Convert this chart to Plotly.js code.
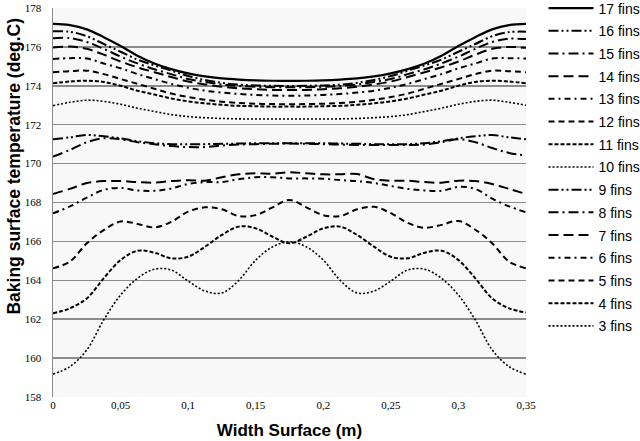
<!DOCTYPE html>
<html>
<head>
<meta charset="utf-8">
<script src="https://cdn.plot.ly/plotly-3.0.1.min.js"></script>
<style>html,body{margin:0;padding:0;background:#fff;}#chart{width:640px;height:441px;}</style>
</head>
<body>
<div id="chart"></div>
<script>
// Width positions (m)
const widthX = [0, 0.0125, 0.025, 0.0375, 0.05, 0.0625, 0.075, 0.0875, 0.1, 0.1125, 0.125, 0.1375, 0.15, 0.1625, 0.175,
  0.1875, 0.2, 0.2125, 0.225, 0.2375, 0.25, 0.2625, 0.275, 0.2875, 0.3, 0.3125, 0.325, 0.3375, 0.35];

// Baking surface temperature (deg.C) per fin count
const fins17 = [177.18, 177.12, 176.9, 176.5, 176.05, 175.55, 175.15, 174.86, 174.64, 174.48, 174.38, 174.32, 174.28, 174.26, 174.25,
  174.26, 174.28, 174.32, 174.38, 174.48, 174.64, 174.86, 175.15, 175.55, 176.05, 176.5, 176.9, 177.12, 177.18];
const fins16 = [176.8, 176.78, 176.55, 176.15, 175.75, 175.35, 175.05, 174.78, 174.5, 174.3, 174.15, 174.06, 174.02, 174.0, 173.99,
  174.0, 174.02, 174.06, 174.15, 174.3, 174.5, 174.78, 175.05, 175.35, 175.75, 176.15, 176.55, 176.76, 176.78];
const fins15 = [176.45, 176.45, 176.25, 175.9, 175.5, 175.15, 174.85, 174.6, 174.35, 174.2, 174.07, 173.99, 173.95, 173.93, 173.92,
  173.93, 173.95, 173.99, 174.07, 174.2, 174.35, 174.6, 174.85, 175.15, 175.5, 175.9, 176.25, 176.42, 176.4];
const fins14 = [175.97, 176.02, 175.9, 175.6, 175.25, 174.95, 174.7, 174.45, 174.22, 174.07, 173.95, 173.87, 173.82, 173.79, 173.78,
  173.79, 173.82, 173.87, 173.95, 174.07, 174.22, 174.45, 174.7, 174.95, 175.25, 175.6, 175.9, 176.0, 175.95];
const fins13 = [175.38, 175.42, 175.4, 175.15, 174.9, 174.6, 174.35, 174.1, 173.9, 173.75, 173.65, 173.58, 173.53, 173.5, 173.49,
  173.5, 173.53, 173.58, 173.65, 173.75, 173.9, 174.1, 174.35, 174.6, 174.9, 175.15, 175.4, 175.42, 175.4];
const fins12 = [174.7, 174.75, 174.78, 174.6, 174.35, 174.1, 173.85, 173.6, 173.42, 173.28, 173.18, 173.12, 173.08, 173.06, 173.05,
  173.06, 173.08, 173.12, 173.18, 173.28, 173.42, 173.6, 173.85, 174.1, 174.35, 174.6, 174.78, 174.75, 174.7];
const fins11 = [174.13, 174.22, 174.26, 174.2, 174.0, 173.75, 173.55, 173.35, 173.2, 173.1, 173.02, 172.97, 172.95, 172.93, 172.93,
  172.93, 172.95, 172.97, 173.02, 173.1, 173.2, 173.35, 173.55, 173.75, 174.0, 174.2, 174.26, 174.22, 174.13];
const fins10 = [172.98, 173.15, 173.26, 173.2, 173.05, 172.85, 172.68, 172.52, 172.42, 172.36, 172.32, 172.3, 172.29, 172.29, 172.29,
  172.29, 172.29, 172.3, 172.32, 172.36, 172.42, 172.52, 172.68, 172.85, 173.05, 173.2, 173.26, 173.15, 173.0];
const fins9 = [171.25, 171.35, 171.47, 171.4, 171.3, 171.15, 171.05, 171.0, 171.0, 171.0, 171.02, 171.03, 171.05, 171.05, 171.05,
  171.05, 171.05, 171.03, 171.02, 171.0, 171.0, 171.0, 171.05, 171.15, 171.3, 171.4, 171.47, 171.35, 171.25];
const fins8 = [170.36, 170.7, 171.1, 171.3, 171.25, 171.1, 171.0, 170.9, 170.85, 170.85, 170.93, 170.98, 171.0, 171.02, 171.03,
  171.02, 171.0, 170.98, 170.96, 170.96, 170.96, 170.96, 170.98, 171.1, 171.25, 171.1, 170.8, 170.55, 170.42];
const fins7 = [168.44, 168.7, 169.0, 169.1, 169.1, 169.05, 169.02, 169.1, 169.15, 169.12, 169.3, 169.45, 169.5, 169.48, 169.55,
  169.5, 169.45, 169.45, 169.46, 169.2, 169.12, 169.12, 169.05, 169.02, 169.12, 169.1, 168.95, 168.7, 168.44];
const fins6 = [167.44, 167.8, 168.25, 168.65, 168.75, 168.62, 168.6, 168.72, 168.95, 169.05, 169.05, 169.2, 169.3, 169.3, 169.24,
  169.24, 169.22, 169.15, 169.1, 169.0, 168.85, 168.7, 168.62, 168.6, 168.8, 168.7, 168.2, 167.8, 167.5];
const fins5 = [164.62, 164.96, 165.9, 166.58, 167.02, 166.9, 166.72, 167.0, 167.53, 167.75, 167.65, 167.3, 167.35, 167.75, 168.13,
  167.75, 167.35, 167.3, 167.65, 167.78, 167.45, 166.95, 166.7, 166.85, 167.05, 166.6, 165.9, 164.96, 164.62];
const fins4 = [162.3, 162.56, 163.07, 164.1, 165.04, 165.52, 165.42, 165.13, 165.21, 165.73, 166.33, 166.76, 166.67, 166.24, 165.9,
  166.24, 166.67, 166.76, 166.33, 165.73, 165.21, 165.13, 165.42, 165.52, 165.04, 164.1, 163.07, 162.56, 162.35];
const fins3 = [159.17, 159.56, 160.42, 161.96, 163.24, 164.1, 164.57, 164.53, 163.96, 163.45, 163.35, 164.0, 165.04, 165.72, 165.98,
  165.72, 165.04, 164.0, 163.35, 163.45, 163.96, 164.53, 164.57, 164.1, 163.24, 161.96, 160.42, 159.56, 159.17];

const seriesNames = ["17 fins", "16 fins", "15 fins", "14 fins", "13 fins", "12 fins", "11 fins", "10 fins",
  "9 fins", "8 fins", "7 fins", "6 fins", "5 fins", "4 fins", "3 fins"];
const seriesValues = [fins17, fins16, fins15, fins14, fins13, fins12, fins11, fins10, fins9, fins8, fins7, fins6, fins5, fins4, fins3];

const xTickVals = [0, 0.05, 0.1, 0.15, 0.2, 0.25, 0.3, 0.35];
const yTickVals = [158, 160, 162, 164, 166, 168, 170, 172, 174, 176, 178];

const dashStyles = [
  "solid",
  "10px,3px,2px,3px,2px,3px",
  "10px,4px,2px,4px",
  "10px,5px",
  "6px,4px,2px,4px",
  "6px,4px",
  "4px,2px",
  "2px,2px",
  "10px,3px,2px,3px,2px,3px",
  "10px,4px,2px,4px",
  "10px,5px",
  "6px,4px,2px,4px",
  "6px,4px",
  "4px,2px",
  "2px,2px"
];

const traces = seriesNames.map((name, i) => ({
  type: "scatter",
  mode: "lines",
  name: name,
  legendgroup: "g" + i,
  x: widthX,
  y: seriesValues[i],
  line: {
    color: "#000000",
    width: dashStyles[i] === "2px,2px" ? 1.6 : (i === 0 ? 2.2 : 2),
    dash: dashStyles[i],
    shape: "spline",
    smoothing: 1
  }
}));

const layout = {
  width: 640,
  height: 441,
  margin: {l: 53, r: 114, t: 8, b: 44, pad: 0, autoexpand: false},
  paper_bgcolor: "#ffffff",
  plot_bgcolor: "#f8f8f8",
  separators: ", ",
  showlegend: true,
  legend: {
    x: 1.037, xanchor: "left",
    y: 1.04, yanchor: "top",
    maxheight: 441,
    font: {family: "Liberation Sans, Arial, sans-serif", size: 14, color: "#000"},
    tracegroupgap: 1.5,
    itemwidth: 45,
    bgcolor: "rgba(0,0,0,0)"
  },
  xaxis: {
    range: [0, 0.35],
    tickvals: xTickVals,
    showgrid: false,
    zeroline: false,
    showline: false,
    ticks: "",
    tickfont: {family: "Liberation Serif, Times New Roman, serif", size: 11, color: "#000"},
    title: {text: "Width Surface (m)", font: {family: "Liberation Sans, Arial, sans-serif", size: 17, color: "#000", weight: "bold"}, standoff: 14}
  },
  yaxis: {
    range: [158, 178],
    tickvals: yTickVals,
    showgrid: true,
    gridcolor: "#8c8c8c",
    gridwidth: 1.5,
    zeroline: false,
    showline: true,
    linecolor: "#8c8c8c",
    linewidth: 1.5,
    ticks: "",
    ticklabelstandoff: 8,
    tickfont: {family: "Liberation Serif, Times New Roman, serif", size: 11, color: "#000"}
  },
  annotations: [{
    text: "Baking surface temperature (deg.C)",
    xref: "paper", yref: "paper",
    x: -0.082, y: 0.593,
    xanchor: "center", yanchor: "middle",
    textangle: -90,
    showarrow: false,
    font: {family: "Liberation Sans, Arial, sans-serif", size: 17.5, color: "#000", weight: "bold"}
  }]
};

Plotly.newPlot("chart", traces, layout, {displayModeBar: false, staticPlot: true});
</script>
</body>
</html>
